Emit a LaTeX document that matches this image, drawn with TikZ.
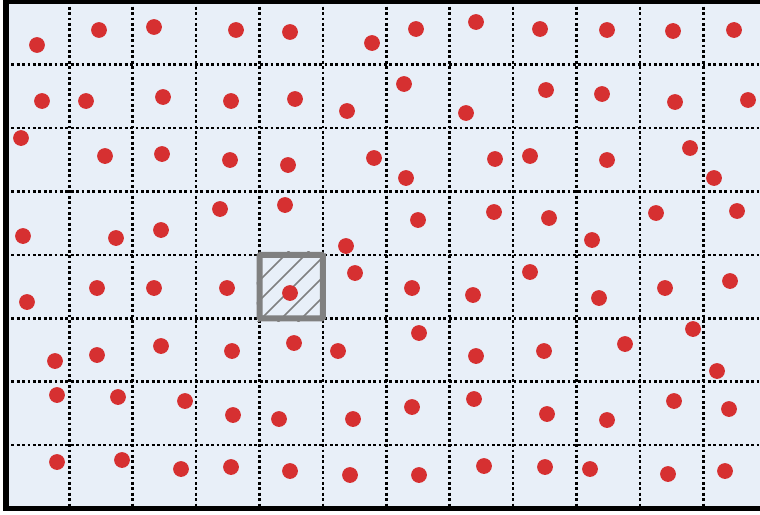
\documentclass[tikz,border=0pt]{standalone}
\usepackage{xcolor}
\usepackage{tikz}
\definecolor{cellbg}{RGB}{232,239,248}
\definecolor{dotred}{RGB}{214,48,49}
\definecolor{selgray}{RGB}{128,128,128}

\begin{document}
\begin{tikzpicture}[x=1pt, y=-1pt,
          gridline/.style={black, line width=2.7pt, dash pattern=on 2.9pt off 2.5pt},
          frameline/.style={black, line width=5.2pt},
          sample/.style={circle, fill=dotred, minimum size=15.8pt, inner sep=0pt},
          selcell/.style={draw=selgray, line width=6pt, rounded corners=1pt,
                          minimum size=63.4pt, inner sep=0pt},
          hatch/.style={selgray, line width=1.6pt}]
          \clip (0,0) rectangle (760,514);
          \fill[white] (0,0) rectangle (760,514);
          \fill[cellbg] (5.9,1.3) rectangle (766.7,508.5);
          % grid
          \foreach \i in {1,...,11}
            \draw[gridline] ({5.9+63.4*\i},1.3) -- ({5.9+63.4*\i},508.5);
          \foreach \j in {1,...,7}
            \draw[gridline] (5.9,{1.3+63.4*\j}) -- (766.7,{1.3+63.4*\j});
          \draw[frameline] (5.9,1.3) rectangle (766.7,508.5);
          % selected cell
          \node[selcell] (sel) at (291.2,286.6) {};
          \begin{scope}
            \clip (sel.south west) rectangle (sel.north east);
            \foreach \c in {540,560,...,620}
              \draw[hatch] (\c-340,340) -- (\c-240,240);
          \end{scope}
          % samples
          \foreach \x/\y [count=\n] in {
            37/45, 99/30, 154/27, 236/30, 290/32, 372/43, 416/29, 476/22, 540/29, 607/30, 673/31, 734/30,
            42/101, 86/101, 163/97, 231/101, 295/99, 347/111, 404/84, 466/113, 546/90, 602/94, 675/102, 748/100,
            21/138, 105/156, 162/154, 230/160, 288/165, 374/158, 406/178, 495/159, 530/156, 607/160, 690/148, 714/178,
            23/236, 116/238, 161/230, 220/209, 285/205, 346/246, 418/220, 494/212, 549/218, 592/240, 656/213, 737/211,
            27/302, 97/288, 154/288, 227/288, 290/293, 355/273, 412/288, 473/295, 530/272, 599/298, 665/288, 730/281,
            55/361, 97/355, 161/346, 232/351, 294/343, 338/351, 419/333, 476/356, 544/351, 625/344, 693/329, 717/371,
            57/395, 118/397, 185/401, 233/415, 279/419, 353/419, 412/407, 474/399, 547/414, 607/420, 674/401, 729/409,
            57/462, 122/460, 181/469, 231/467, 290/471, 350/475, 419/475, 484/466, 545/467, 590/469, 668/474, 725/471}
            \node[sample] (p\n) at (\x,\y) {};
        \end{tikzpicture}
\end{document}
